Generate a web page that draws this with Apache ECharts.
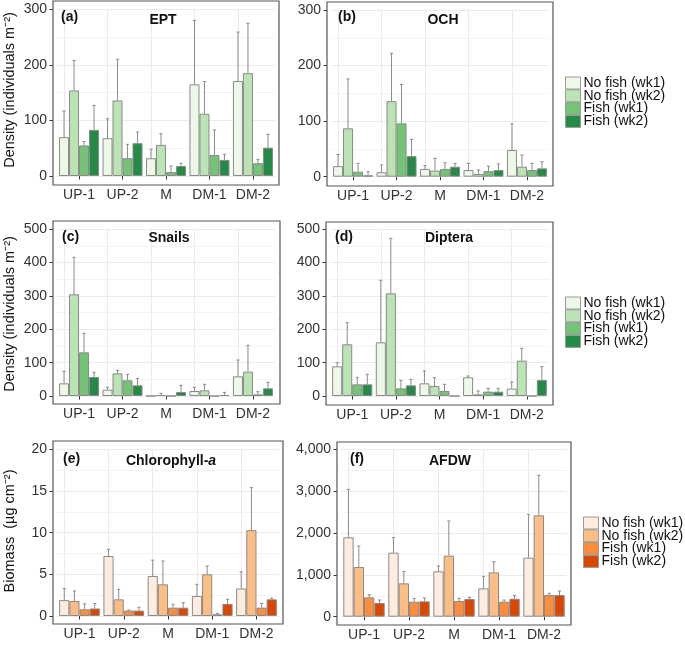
<!DOCTYPE html>
<html>
<head>
<meta charset="utf-8">
<script src="https://cdn.jsdelivr.net/npm/echarts@6/dist/echarts.min.js"></script>
<style>
html, body { margin: 0; padding: 0; background: #fff; }
#chart { width: 685px; height: 646px; }
</style>
</head>
<body>
<div id="chart"></div>
<script>
// sites and treatments
const sites = ['UP-1', 'UP-2', 'M', 'DM-1', 'DM-2'];
const groups = ['No fish (wk1)', 'No fish (wk2)', 'Fish (wk1)', 'Fish (wk2)'];

// mean values, one row per treatment (same order as groups)
const eptMean = [[70, 68, 32, 165, 171], [154, 136, 56, 112, 185], [55, 32, 7, 38, 23], [83, 59, 18, 29, 51]];
const eptUpper = [[117, 103, 48, 280, 259], [208, 210, 76, 170, 275], [62, 57, 18, 83, 30], [127, 79, 23, 39, 75]];

const ochMean = [[19, 8, 14, 12, 48], [87, 136, 11, 5, 18], [9, 96, 14, 10, 12], [2.5, 37, 18, 12, 15]];
const ochUpper = [[40, 21, 20, 24, 95], [176, 222, 33, 12, 39], [24, 166, 25, 19, 24], [9, 67, 24, 23, 27]];

const snailMean = [[38, 19, 0, 15, 59], [305, 68, 3, 17, 73], [131, 47, 0, 0, 5], [57, 32, 12, 3, 23]];
const snailUpper = [[74, 26, 0, 26, 108], [416, 77, 8, 35, 152], [188, 65, 0, 0, 13], [71, 53, 32, 11, 41]];

const dipMean = [[89, 161, 38, 56, 22], [155, 308, 30, 5, 106], [35, 23, 15, 13, 0], [35, 32, 0, 13, 48]];
const dipUpper = [[100, 347, 75, 60, 42], [220, 473, 55, 15, 143], [56, 47, 35, 23, 0], [65, 50, 0, 23, 88]];

const chlMean = [[1.9, 7.2, 4.8, 2.4, 3.3], [1.8, 2.0, 3.8, 5.0, 10.3], [0.8, 0.65, 1.0, 0.2, 1.0], [0.9, 0.65, 1.0, 1.45, 2.0]];
const chlUpper = [[3.3, 8.0, 6.7, 3.8, 5.3], [3.0, 3.2, 6.6, 6.0, 15.4], [1.45, 0.72, 1.4, 0.32, 1.5], [1.5, 1.05, 1.6, 2.0, 2.15]];

const afdwMean = [[1896, 1530, 1084, 677, 1410], [1187, 797, 1458, 1060, 2422], [462, 359, 375, 359, 519], [327, 367, 422, 430, 519]];
const afdwUpper = [[3044, 1888, 1211, 964, 2446], [1689, 1076, 2287, 1315, 3378], [526, 438, 438, 398, 559], [398, 446, 462, 510, 614]];

const greens = ['#edf8e9', '#bae4b3', '#74c476', '#238b45'];
const oranges = ['#feedde', '#fdbe85', '#fd8d3c', '#d94701'];

const FONT = 'Liberation Sans';

const panels = [
    { tag: '(a)', title: 'EPT', mean: eptMean, upper: eptUpper, max: 300, step: 100, colors: greens,
      grid: { left: 57.3, top: 9.3, width: 217.4, height: 166.7 }, frame: [53, 1, 226, 184], tagX: 61, tagY: 17, titleX: 163, titleY: 20 },
    { tag: '(b)', title: 'OCH', mean: ochMean, upper: ochUpper, max: 300, step: 100, colors: greens,
      grid: { left: 331.3, top: 10, width: 217.4, height: 166.7 }, frame: [327, 2, 226, 184], tagX: 338, tagY: 17, titleX: 443, titleY: 20 },
    { tag: '(c)', title: 'Snails', mean: snailMean, upper: snailUpper, max: 500, step: 100, colors: greens,
      grid: { left: 57.3, top: 229.3, width: 217.4, height: 166.7 }, frame: [53, 221, 227, 183], tagX: 62, tagY: 237, titleX: 169, titleY: 238 },
    { tag: '(d)', title: 'Diptera', mean: dipMean, upper: dipUpper, max: 500, step: 100, colors: greens,
      grid: { left: 330.4, top: 229.3, width: 218.2, height: 166.7 }, frame: [326, 222, 227, 183], tagX: 335, tagY: 237, titleX: 449, titleY: 238 },
    { tag: '(e)', title: 'Chlorophyll-{i|a}', mean: chlMean, upper: chlUpper, max: 20, step: 5, colors: oranges,
      grid: { left: 57.4, top: 449.3, width: 221.2, height: 166.7 }, frame: [53, 441, 230, 183], tagX: 63, tagY: 459, titleX: 171, titleY: 461 },
    { tag: '(f)', title: 'AFDW', mean: afdwMean, upper: afdwUpper, max: 4000, step: 1000, colors: oranges,
      grid: { left: 341.5, top: 449.3, width: 225, height: 167.4 }, frame: [337, 442, 234, 183], tagX: 350, tagY: 459, titleX: 450, titleY: 461 }
];

const yTitles = [
    { text: 'Density (individuals m\u207B\u00B2)', x: 10, y: 90 },
    { text: 'Density (individuals m\u207B\u00B2)', x: 10, y: 314 },
    { text: 'Biomass  (\u00B5g cm\u207B\u00B2)', x: 10, y: 531 }
];

// error bar: line from bar top up to the upper value, small cap
function renderErr(params, api) {
    const g = api.value(3);
    const band = api.size([1, 0])[0];
    const dx = band * (-0.46 + 0.23 * (g + 0.5));
    const base = api.coord([api.value(0), api.value(1)]);
    const top = api.coord([api.value(0), api.value(2)]);
    const x = base[0] + dx;
    if (base[1] - top[1] < 0.5) return { type: 'group', children: [] };
    const st = { stroke: '#8c8c8c', lineWidth: 1 };
    return {
        type: 'group',
        children: [
            { type: 'line', shape: { x1: x, y1: base[1], x2: x, y2: top[1] }, style: st },
            { type: 'line', shape: { x1: x - 1.6, y1: top[1], x2: x + 1.6, y2: top[1] }, style: st }
        ]
    };
}

let grids = [], xAxes = [], yAxes = [], series = [], graphics = [];

panels.forEach(function (p, i) {
    grids.push(p.grid);
    const fBottom = p.frame[1] + p.frame[3];
    xAxes.push({
        type: 'category', gridIndex: i, data: sites,
        offset: fBottom - (p.grid.top + p.grid.height),
        axisLine: { show: false },
        axisTick: { show: true, alignWithLabel: true, interval: 0, length: 3.5, lineStyle: { color: '#333' } },
        axisLabel: { color: '#333', fontSize: 14, fontFamily: FONT, margin: 3, interval: 0 },
        splitLine: { show: false }
    });
    yAxes.push({
        type: 'value', gridIndex: i, min: 0, max: p.max, interval: p.step,
        offset: p.grid.left - p.frame[0],
        axisLine: { show: false },
        axisTick: { show: true, length: 3.5, lineStyle: { color: '#333' } },
        axisLabel: { color: '#333', fontSize: 14, fontFamily: FONT, margin: 6,
            formatter: function (v) { return v.toLocaleString('en-US'); } },
        splitLine: { show: true, lineStyle: { color: '#ebebeb', width: 1 } },
        minorTick: { show: false, splitNumber: 2 },
        minorSplitLine: { show: true, lineStyle: { color: '#f4f4f4', width: 1 } }
    });

    const errData = [];
    groups.forEach(function (name, g) {
        const s = {
            name: name, type: 'bar', xAxisIndex: i, yAxisIndex: i,
            data: p.mean[g], barGap: '0%', barCategoryGap: '8%', z: 2,
            itemStyle: { color: p.colors[g], borderColor: '#8a8a8a', borderWidth: 1 },
            emphasis: { disabled: true }
        };
        if (g === 0) {
            // vertical grid lines at site centres
            s.markLine = {
                silent: true, symbol: 'none', z: 1, label: { show: false },
                lineStyle: { color: '#ebebeb', type: 'solid', width: 1 },
                data: sites.map(function (c) { return { xAxis: c }; })
            };
        }
        series.push(s);
        p.mean[g].forEach(function (v, k) {
            errData.push([k, v, p.upper[g][k], g]);
        });
    });
    series.push({
        type: 'custom', xAxisIndex: i, yAxisIndex: i, z: 3,
        renderItem: renderErr, data: errData,
        encode: { x: 0, y: [1, 2] }, silent: true
    });

    graphics.push({
        type: 'rect', silent: true, z: 10,
        shape: { x: p.frame[0], y: p.frame[1], width: p.frame[2], height: p.frame[3] },
        style: { fill: 'none', stroke: '#555', lineWidth: 1.2 }
    });
    graphics.push({
        type: 'text', x: p.tagX, y: p.tagY, z: 10,
        style: { text: p.tag, font: 'bold 14px ' + FONT, fill: '#111', textAlign: 'left', textVerticalAlign: 'middle' }
    });
    graphics.push({
        type: 'text', x: p.titleX, y: p.titleY, z: 10,
        style: { text: p.title, font: 'bold 14px ' + FONT, fill: '#111', textAlign: 'center', textVerticalAlign: 'middle',
            rich: { i: { fontStyle: 'italic', fontWeight: 'bold', fontSize: 14, fontFamily: FONT, fill: '#111' } } }
    });
});

yTitles.forEach(function (t) {
    graphics.push({
        type: 'text', x: t.x, y: t.y, rotation: Math.PI / 2,
        style: { text: t.text, font: '14.5px ' + FONT, fill: '#111', textAlign: 'center', textVerticalAlign: 'middle' }
    });
});

function legendFor(colors, left, top) {
    return {
        orient: 'vertical', left: left, top: top, padding: 0,
        itemWidth: 15, itemHeight: 12, itemGap: -1.2, icon: 'rect',
        selectedMode: false,
        textStyle: { fontSize: 14, fontFamily: FONT, color: '#111', padding: [0, 0, 0, -2] },
        data: groups.map(function (name, g) {
            return { name: name, itemStyle: { color: colors[g], borderColor: '#999', borderWidth: 1 } };
        })
    };
}

const chart = echarts.init(document.getElementById('chart'), null, { renderer: 'canvas' });
chart.setOption({
    animation: false,
    backgroundColor: '#fff',
    textStyle: { fontFamily: FONT },
    grid: grids,
    xAxis: xAxes,
    yAxis: yAxes,
    legend: [legendFor(greens, 565, 76), legendFor(greens, 565, 296), legendFor(oranges, 583, 516)],
    series: series,
    graphic: graphics
});
</script>
</body>
</html>
